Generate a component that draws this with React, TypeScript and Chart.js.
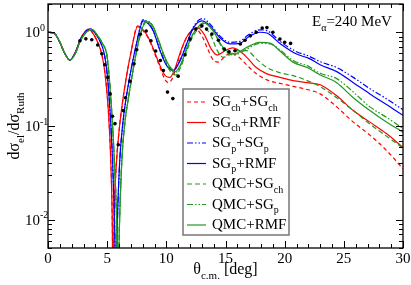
import React, { useEffect, useRef } from "react";
import { Chart, registerables } from "chart.js";
Chart.register(...registerables);

type P = [number, number];

const X_MIN = 0;
const X_MAX = 30;
const Y_MIN = 0.005;
const Y_MAX = 2;
const X_TICK_LABELS = [0, 5, 10, 15, 20, 25, 30];
const Y_TICK_EXPONENTS = [-2, -1, 0];

const SG_CH_SG_CH: P[] = [[0,1.0],[0.5,0.98],[1.0,0.78],[1.4,0.6],[1.85,0.505],[2.3,0.61],[2.8,0.88],[3.45,1.08],[3.9,0.93],[4.2,0.78],[4.54,0.585],[4.8,0.38],[5.1,0.146],[5.3,0.045],[5.42,0.012],[5.5,0.002],[5.6,0.012],[5.78,0.04],[6.05,0.1],[6.3,0.18],[6.6,0.32],[7.0,0.6],[7.55,1.15],[8.2,0.98],[8.6,0.8],[9.0,0.6],[9.5,0.41],[9.9,0.31],[10.17,0.29],[10.5,0.32],[11.0,0.5],[11.6,0.82],[12.4,1.08],[13.0,0.92],[13.5,0.66],[14.0,0.5],[14.4,0.48],[15.0,0.56],[15.5,0.6],[16.0,0.56],[16.7,0.46],[17.5,0.37],[18.5,0.31],[19.6,0.285],[20.7,0.265],[21.9,0.245],[23.0,0.22],[24.4,0.16],[25.8,0.11],[27.2,0.08],[28.6,0.055],[30,0.035]];

const SG_CH_RMF: P[] = [[0,1.0],[0.5,0.98],[1.0,0.78],[1.4,0.6],[1.85,0.505],[2.3,0.61],[2.8,0.88],[3.45,1.08],[3.9,0.93],[4.2,0.78],[4.54,0.585],[4.8,0.38],[5.1,0.146],[5.3,0.045],[5.42,0.012],[5.5,0.002],[5.6,0.012],[5.78,0.04],[6.05,0.1],[6.3,0.18],[6.6,0.32],[7.0,0.6],[7.6,1.17],[8.2,1.0],[8.6,0.82],[9.0,0.62],[9.5,0.43],[9.95,0.34],[10.3,0.33],[10.7,0.4],[11.2,0.62],[11.7,0.88],[12.6,1.12],[13.2,0.95],[13.8,0.66],[14.3,0.57],[15.0,0.64],[15.6,0.68],[16.2,0.63],[16.8,0.54],[17.6,0.42],[18.5,0.36],[19.6,0.33],[20.7,0.305],[21.9,0.29],[23.0,0.275],[24.4,0.21],[25.8,0.146],[27.2,0.11],[28.6,0.083],[30,0.059]];

const SG_P_SG_P: P[] = [[0,1.0],[0.5,0.98],[1.0,0.78],[1.4,0.6],[1.85,0.505],[2.3,0.6],[2.8,0.86],[3.6,1.08],[4.1,0.93],[4.4,0.8],[4.76,0.585],[5.0,0.36],[5.24,0.146],[5.45,0.045],[5.62,0.01],[5.75,0.002],[5.87,0.01],[6.05,0.04],[6.3,0.1],[6.55,0.18],[6.9,0.33],[7.4,0.68],[8.06,1.36],[8.5,1.25],[8.9,1.03],[9.47,0.64],[10.03,0.45],[10.6,0.4],[11.16,0.5],[11.72,0.76],[12.3,1.15],[13.05,1.4],[13.7,1.22],[14.5,0.92],[15.4,0.78],[16.2,0.8],[17.0,0.95],[17.9,1.06],[18.5,1.04],[19.6,0.8],[21.0,0.62],[22.0,0.56],[23.0,0.485],[24.4,0.42],[25.8,0.33],[27.2,0.25],[28.6,0.195],[30,0.149]];

const SG_P_RMF: P[] = [[0,1.0],[0.5,0.98],[1.0,0.78],[1.4,0.6],[1.85,0.505],[2.3,0.6],[2.8,0.86],[3.6,1.08],[4.1,0.93],[4.4,0.8],[4.76,0.585],[5.0,0.36],[5.24,0.146],[5.45,0.045],[5.62,0.01],[5.75,0.002],[5.87,0.01],[6.05,0.04],[6.3,0.1],[6.55,0.18],[6.9,0.33],[7.4,0.68],[8.06,1.32],[8.5,1.22],[8.9,1.03],[9.47,0.635],[10.03,0.44],[10.6,0.39],[11.16,0.5],[11.72,0.75],[12.3,1.12],[13.0,1.32],[13.7,1.17],[14.5,0.88],[15.4,0.75],[16.2,0.76],[17.0,0.9],[17.9,1.0],[18.5,0.98],[19.6,0.76],[21.0,0.585],[22.0,0.53],[23.0,0.45],[24.4,0.38],[25.8,0.29],[27.2,0.22],[28.6,0.17],[30,0.13]];

const QMC_SG_CH: P[] = [[0,1.0],[0.5,0.98],[1.0,0.78],[1.4,0.6],[1.85,0.505],[2.3,0.59],[2.8,0.84],[3.7,1.07],[4.2,0.92],[4.6,0.76],[4.96,0.585],[5.15,0.36],[5.38,0.146],[5.6,0.045],[5.8,0.01],[5.92,0.002],[6.05,0.01],[6.25,0.045],[6.5,0.11],[6.8,0.2],[7.2,0.4],[7.7,0.82],[8.3,1.28],[8.8,1.18],[9.3,0.83],[9.8,0.55],[10.3,0.39],[10.8,0.35],[11.2,0.42],[11.7,0.62],[12.3,0.93],[13.1,1.15],[13.8,0.9],[14.3,0.64],[14.8,0.54],[15.4,0.58],[16.0,0.635],[16.8,0.635],[17.6,0.52],[18.5,0.42],[19.6,0.37],[20.7,0.345],[21.9,0.305],[23.0,0.263],[24.4,0.2],[25.8,0.146],[27.2,0.105],[28.6,0.078],[30,0.058]];

const QMC_SG_P: P[] = [[0,1.0],[0.5,0.98],[1.0,0.78],[1.4,0.6],[1.85,0.505],[2.3,0.59],[2.8,0.84],[3.7,1.07],[4.2,0.92],[4.6,0.76],[4.96,0.585],[5.15,0.36],[5.38,0.146],[5.6,0.045],[5.8,0.01],[5.92,0.002],[6.05,0.01],[6.25,0.045],[6.5,0.11],[6.8,0.2],[7.2,0.4],[7.7,0.85],[8.3,1.32],[8.8,1.2],[9.3,0.85],[9.8,0.57],[10.3,0.42],[10.75,0.37],[11.2,0.44],[11.7,0.65],[12.3,0.98],[13.25,1.27],[13.9,1.07],[14.8,0.66],[15.7,0.57],[16.8,0.66],[17.9,0.76],[18.8,0.75],[19.6,0.65],[20.7,0.5],[21.9,0.44],[23.0,0.365],[24.4,0.32],[25.8,0.23],[27.2,0.16],[28.6,0.124],[30,0.094]];

const QMC_RMF: P[] = [[0,1.0],[0.5,0.98],[1.0,0.78],[1.4,0.6],[1.85,0.505],[2.3,0.59],[2.8,0.84],[3.7,1.07],[4.2,0.92],[4.6,0.76],[4.96,0.585],[5.15,0.36],[5.38,0.146],[5.6,0.045],[5.8,0.01],[5.92,0.002],[6.05,0.01],[6.25,0.045],[6.5,0.11],[6.8,0.2],[7.2,0.4],[7.7,0.85],[8.3,1.3],[8.8,1.2],[9.3,0.85],[9.8,0.57],[10.3,0.43],[10.75,0.38],[11.2,0.45],[11.7,0.66],[12.3,0.98],[13.25,1.24],[13.9,1.05],[14.8,0.69],[15.7,0.585],[16.8,0.69],[17.9,0.78],[18.8,0.76],[19.6,0.63],[20.7,0.48],[21.9,0.42],[23.0,0.35],[24.4,0.29],[25.8,0.2],[27.2,0.146],[28.6,0.11],[30,0.086]];

const EXP_DATA: P[] = [[2.7,0.81],[3.2,0.85],[3.7,0.83],[4.2,0.73],[4.55,0.59],[4.8,0.45],[5.05,0.33],[5.25,0.22],[5.45,0.127],[5.66,0.106],[5.94,0.063],[6.36,0.146],[6.55,0.2],[6.93,0.3],[7.27,0.46],[7.5,0.65],[7.8,0.95],[8.3,1.03],[8.7,0.81],[9.1,0.63],[9.5,0.5],[9.75,0.39],[10.1,0.23],[10.55,0.196],[11.0,0.34],[11.58,0.575],[12.0,0.845],[12.5,1.08],[13.0,1.17],[13.4,1.08],[13.85,0.955],[14.4,0.82],[14.9,0.66],[15.3,0.62],[15.8,0.635],[16.25,0.75],[16.65,0.82],[17.1,0.915],[17.6,1.0],[18.1,1.11],[18.5,1.12],[19.0,1.0],[19.6,0.845],[20.0,0.78],[20.5,0.76]];

const SERIES_LABELS = ["SG_{ch}+SG_{ch}", "SG_{ch}+RMF", "SG_{p}+SG_{p}", "SG_{p}+RMF", "QMC+SG_{ch}", "QMC+SG_{p}", "QMC+RMF"];
const SERIES_DATA = [SG_CH_SG_CH, SG_CH_RMF, SG_P_SG_P, SG_P_RMF, QMC_SG_CH, QMC_SG_P, QMC_RMF];
const RED = "#ff0000";
const BLUE = "#0000ff";
const GREEN = "#1e9a1e";
const SERIES_COLORS = [RED, RED, BLUE, BLUE, GREEN, GREEN, GREEN];
const DASH_DD = [6, 2, 1.5, 2, 1.5, 2];
const SERIES_DASHES: number[][] = [[4, 3], [], DASH_DD, [], [5, 3], DASH_DD, []];

const FONT = '"Liberation Serif", "Times New Roman", serif';

type Seg = { t: string; k: "n" | "sub" | "sup" };
function parseRich(s: string): Seg[] {
  const out: Seg[] = [];
  const re = /_\{([^}]*)\}|\^\{([^}]*)\}|([^_^]+)/g;
  let m: RegExpExecArray | null;
  while ((m = re.exec(s))) {
    if (m[1] !== undefined) out.push({ t: m[1], k: "sub" });
    else if (m[2] !== undefined) out.push({ t: m[2], k: "sup" });
    else out.push({ t: m[3], k: "n" });
  }
  return out;
}
function drawRich(ctx: CanvasRenderingContext2D, s: string, x: number, y: number, size: number, align: "left" | "center" | "right") {
  const segs = parseRich(s);
  const small = Math.round(size * 0.68);
  let w = 0;
  for (const sg of segs) {
    ctx.font = `${sg.k === "n" ? size : small}px ${FONT}`;
    w += ctx.measureText(sg.t).width;
  }
  let cx = align === "left" ? x : align === "center" ? x - w / 2 : x - w;
  ctx.textAlign = "left";
  ctx.textBaseline = "alphabetic";
  for (const sg of segs) {
    ctx.font = `${sg.k === "n" ? size : small}px ${FONT}`;
    const dy = sg.k === "sub" ? size * 0.3 : sg.k === "sup" ? -size * 0.42 : 0;
    ctx.fillText(sg.t, cx, y + dy);
    cx += ctx.measureText(sg.t).width;
  }
}

const decorPlugin = {
  id: "decor",
  afterDraw(chart: any) {
    const ctx: CanvasRenderingContext2D = chart.ctx;
    const { left, right, top, bottom } = chart.chartArea;
    const xs = chart.scales.x;
    const ys = chart.scales.y;
    ctx.save();
    ctx.strokeStyle = "#000";
    ctx.fillStyle = "#000";
    ctx.lineWidth = 1.3;
    ctx.setLineDash([]);
    ctx.strokeRect(left, top, right - left, bottom - top);
    ctx.lineWidth = 1;
    // x ticks
    for (let v = X_MIN; v <= X_MAX; v += 1) {
      const px = Math.round(xs.getPixelForValue(v)) + 0.5;
      const len = v % 5 === 0 ? 7 : 4;
      ctx.beginPath();
      ctx.moveTo(px, bottom); ctx.lineTo(px, bottom - len);
      ctx.moveTo(px, top); ctx.lineTo(px, top + len);
      ctx.stroke();
    }
    // y ticks
    for (let d = -3; d <= 0; d++) {
      for (let m = 1; m <= 9; m++) {
        const v = m * Math.pow(10, d);
        if (v < Y_MIN - 1e-12 || v > Y_MAX + 1e-12) continue;
        const py = Math.round(ys.getPixelForValue(v)) + 0.5;
        const len = m === 1 ? 7 : 4;
        ctx.beginPath();
        ctx.moveTo(left, py); ctx.lineTo(left + len, py);
        ctx.moveTo(right, py); ctx.lineTo(right - len, py);
        ctx.stroke();
      }
    }
    // tick labels
    for (const v of X_TICK_LABELS) {
      drawRich(ctx, String(v), xs.getPixelForValue(v), bottom + 15, 15, "center");
    }
    for (const e of Y_TICK_EXPONENTS) {
      const py = ys.getPixelForValue(Math.pow(10, e));
      drawRich(ctx, `10^{${e}}`, 25, py + 5, 15, "left");
    }
    // axis titles
    drawRich(ctx, "θ_{c.m.} [deg]", (left + right) / 2, 274, 16, "center");
    ctx.save();
    ctx.translate(19, (top + bottom) / 2);
    ctx.rotate(-Math.PI / 2);
    drawRich(ctx, "dσ_{el}/dσ_{Ruth}", 0, 0, 16, "center");
    ctx.restore();
    // annotation
    drawRich(ctx, "E_{α}=240 MeV", 312, 26, 15, "left");
    // legend
    const bx = 183, by = 89, bw = 106, bh = 146;
    ctx.fillStyle = "#fff";
    ctx.fillRect(bx, by, bw, bh);
    ctx.strokeStyle = "#777";
    ctx.lineWidth = 1.5;
    ctx.strokeRect(bx, by, bw, bh);
    for (let i = 0; i < SERIES_LABELS.length; i++) {
      const ry = by + 13 + i * 20.5;
      ctx.strokeStyle = SERIES_COLORS[i];
      ctx.lineWidth = 1.2;
      ctx.setLineDash(SERIES_DASHES[i]);
      ctx.beginPath();
      ctx.moveTo(187, ry); ctx.lineTo(206, ry);
      ctx.stroke();
      ctx.setLineDash([]);
      ctx.fillStyle = "#000";
      drawRich(ctx, SERIES_LABELS[i], 212, ry + 4, 15, "left");
    }
    ctx.restore();
  },
};

export default function App() {
  const ref = useRef<HTMLCanvasElement | null>(null);
  useEffect(() => {
    document.body.style.margin = "0";
    const canvas = ref.current;
    if (!canvas) return;
    const n = SERIES_DATA.length;
    const datasets: any[] = SERIES_DATA.map((pts, i) => ({
      type: "line",
      label: SERIES_LABELS[i],
      data: pts.map(([x, y]) => ({ x, y })),
      borderColor: SERIES_COLORS[i],
      backgroundColor: SERIES_COLORS[i],
      borderWidth: 1.2,
      borderDash: SERIES_DASHES[i],
      pointRadius: 0,
      fill: false,
      cubicInterpolationMode: "monotone",
      order: n - i + 1,
    }));
    datasets.push({
      type: "scatter",
      label: "data",
      data: EXP_DATA.map(([x, y]) => ({ x, y })),
      showLine: false,
      pointRadius: 1.8,
      pointBackgroundColor: "#000",
      pointBorderWidth: 0,
      order: 0,
    });
    const chart = new Chart(canvas, {
      type: "line",
      data: { datasets },
      options: {
        responsive: false,
        animation: false,
        devicePixelRatio: 1,
        layout: { padding: { left: 48, right: 8, top: 3, bottom: 37 } },
        plugins: { legend: { display: false }, tooltip: { enabled: false } },
        scales: {
          x: { type: "linear", min: X_MIN, max: X_MAX, display: false },
          y: { type: "logarithmic", min: Y_MIN, max: Y_MAX, display: false },
        },
      },
      plugins: [decorPlugin],
    });
    return () => chart.destroy();
  }, []);
  return (
    <div style={{ width: 411, height: 285, background: "#fff" }}>
      <canvas ref={ref} width={411} height={285} style={{ display: "block" }} />
    </div>
  );
}
